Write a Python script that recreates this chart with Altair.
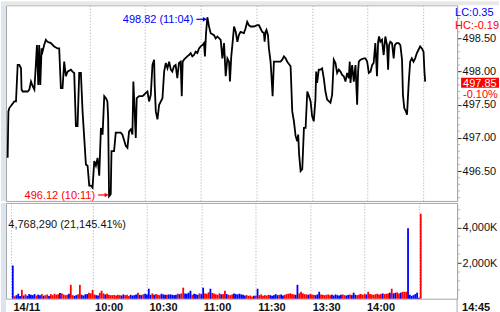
import altair as alt
import pandas as pd

FONT = "Liberation Sans"

# ---- price series: session minutes since 09:15 (lunch 11:30-13:00 collapsed) ----
price_t = [0.9, 1.3, 1.8, 4.5, 5.4, 6.3, 7.2, 8.1, 8.4, 9.0, 11.7, 12.6, 13.5, 14.4, 15.3, 16.2, 16.7, 17.4, 17.9, 18.5,
           19.2, 19.7, 20.6, 21.5, 22.4, 24.2, 26.0, 27.8, 28.7, 29.6, 30.5, 31.4, 32.3, 33.2, 35.0, 35.9, 36.8, 37.7, 38.6, 39.5,
           40.4, 41.3, 42.2, 43.1, 44.0, 44.9, 45.8, 46.7, 47.6, 48.5, 49.4, 50.3, 51.2, 52.1, 53.0, 53.9, 54.7, 55.1, 55.6, 56.5,
           56.9, 58.3, 59.2, 61.9, 62.8, 64.6, 65.5, 66.4, 67.3, 68.2, 68.7, 69.1, 70.0, 70.5, 71.8, 73.6, 74.5, 75.4, 76.3, 77.2,
           78.1, 79.0, 79.9, 80.2, 80.8, 81.7, 82.6, 84.4, 85.3, 86.2, 87.1, 88.0, 88.9, 89.7, 90.6, 91.5, 92.4, 93.3, 94.2, 94.8,
           95.3, 96.0, 97.8, 98.7, 99.6, 100.5, 101.4, 102.3, 103.2, 104.1, 105.0, 105.9, 106.8, 107.3, 107.9, 108.6, 109.5, 110.4,
           112.2, 113.1, 114.0, 115.8, 116.7, 117.6, 118.5, 119.4, 120.3, 120.8, 121.5, 122.1, 123.0, 123.9, 124.8, 125.6, 126.5,
           128.3, 129.2, 130.1, 131.0, 131.9, 133.7, 135.5, 136.4, 137.3, 138.2, 139.1, 139.5, 140.0, 140.5, 141.3, 141.8, 142.7,
           143.2, 143.8, 144.5, 146.3, 148.1, 149.0, 149.9, 150.8, 151.7, 153.5, 154.4, 155.3, 156.2, 157.1, 157.6, 158.1, 158.9,
           159.8, 160.7, 161.6, 162.5, 163.4, 164.3, 165.1, 166.0, 166.9, 167.3, 167.8, 168.7, 169.6, 170.5, 171.4, 172.3, 173.2,
           175.0, 175.9, 176.8, 177.7, 178.6, 179.5, 180.4, 181.3, 182.2, 183.1, 184.0, 184.9, 185.4, 185.8, 186.7, 187.6, 188.5,
           189.4, 189.9, 190.3, 191.2, 193.0, 193.9, 194.8, 195.7, 196.6, 197.5, 198.3, 199.2, 200.1, 200.7, 201.2, 201.9, 202.8,
           203.7, 204.6, 205.5, 206.1, 206.6, 207.3, 208.2, 209.1, 209.7, 210.6, 211.8, 212.7, 213.6, 214.1, 214.8, 215.7, 216.3,
           217.2, 218.0, 218.9, 219.8, 220.7, 221.6, 222.5, 223.4, 224.3, 225.2, 225.7, 226.1]
price_v = [496.70, 497.40, 497.45, 497.55, 497.55, 498.10, 498.10, 498.05, 497.73, 497.70, 497.70, 497.73, 497.85, 497.78,
           497.73, 498.15, 498.40, 497.80, 498.40, 497.80, 498.35, 498.30, 498.40, 498.48, 498.45, 498.43, 498.38, 498.35,
           498.35, 497.75, 497.75, 498.15, 497.93, 498.00, 498.03, 498.00, 497.98, 497.18, 497.18, 497.98, 497.98, 497.40,
           497.00, 496.60, 496.58, 496.28, 496.28, 496.25, 496.65, 496.58, 496.70, 496.43, 497.15, 497.05, 497.63, 497.60,
           497.55, 497.30, 496.12, 496.15, 496.80, 496.80, 497.08, 497.08, 497.05, 496.88, 496.85, 497.10, 497.13, 497.05,
           497.85, 497.60, 497.00, 497.60, 497.63, 497.63, 497.65, 497.68, 497.70, 497.55, 497.65, 498.10, 498.18, 497.80,
           497.40, 497.28, 497.50, 497.60, 498.00, 498.13, 498.05, 498.15, 498.03, 498.00, 498.08, 498.10, 497.90, 498.13,
           498.15, 497.63, 498.15, 498.18, 498.23, 498.25, 498.28, 498.23, 498.25, 498.30, 498.28, 498.35, 498.38, 498.40,
           498.43, 498.23, 498.58, 498.82, 498.68, 498.58, 498.55, 498.50, 498.53, 498.48, 498.20, 498.43, 497.93, 498.20,
           498.15, 497.85, 498.23, 498.40, 498.68, 498.60, 498.45, 498.55, 498.60, 498.58, 498.65, 498.75, 498.70, 498.68,
           498.68, 498.70, 498.70, 498.65, 498.60, 498.58, 498.45, 498.60, 498.63, 498.55, 498.35, 498.15, 497.93, 497.63,
           498.15, 498.15, 498.15, 498.18, 498.23, 498.20, 498.15, 498.08, 497.40, 497.25, 497.03, 496.95, 497.05, 496.75,
           496.50, 496.53, 497.15, 497.15, 497.70, 497.63, 497.55, 497.33, 497.25, 497.58, 498.00, 497.83, 498.03, 498.03,
           498.05, 497.90, 497.70, 497.58, 497.53, 497.65, 498.18, 498.13, 497.98, 498.03, 498.00, 497.95, 497.93, 497.85,
           497.98, 497.90, 498.15, 497.83, 498.10, 497.85, 498.10, 497.50, 498.00, 498.15, 498.18, 498.20, 498.20, 498.15,
           497.98, 498.00, 498.10, 498.13, 498.43, 497.93, 498.45, 498.53, 498.45, 498.48, 498.25, 498.53, 498.40, 498.03,
           498.40, 498.45, 498.43, 498.20, 498.40, 498.43, 498.43, 498.40, 498.18, 497.65, 497.45, 497.40, 497.35, 497.83,
           498.15, 498.20, 498.15, 498.20, 498.28, 498.33, 498.38, 498.35, 498.30, 498.00, 497.85]

# ---- volume per minute (thousands) and colour (b = blue, r = red) ----
vol_t = list(range(1, 227))
vol_k = [1865, 140, 200, 280, 150, 500, 180, 250, 170, 260,
         220, 200, 260, 180, 230, 200, 260, 170, 200, 240,
         150, 260, 200, 280, 230, 250, 320, 300, 240, 200,
         220, 280, 780, 200, 160, 200, 250, 780, 220, 180,
         250, 260, 330, 300, 500, 240, 200, 180, 330, 450,
         300, 240, 280, 220, 200, 200, 210, 180, 220, 200,
         180, 240, 200, 220, 150, 220, 180, 200, 240, 330,
         220, 200, 250, 280, 230, 560, 220, 300, 220, 260,
         220, 200, 280, 240, 220, 220, 240, 240, 220, 200,
         220, 280, 260, 300, 620, 300, 280, 340, 450, 220,
         280, 250, 220, 300, 260, 620, 300, 280, 360, 560,
         320, 300, 250, 220, 300, 250, 260, 450, 260, 220,
         200, 240, 300, 260, 240, 280, 240, 220, 180, 200,
         160, 180, 120, 160, 180, 560, 200, 240, 160, 200,
         180, 220, 200, 160, 200, 260, 200, 220, 240, 180,
         220, 260, 280, 300, 260, 240, 220, 780, 300, 390,
         300, 260, 240, 220, 260, 230, 220, 200, 240, 390,
         240, 220, 200, 220, 240, 200, 230, 180, 240, 200,
         180, 220, 240, 200, 180, 220, 240, 200, 340, 220,
         200, 240, 260, 220, 260, 240, 390, 260, 240, 220,
         250, 280, 240, 260, 300, 260, 280, 300, 330, 560,
         300, 330, 360, 300, 340, 390, 390, 390, 3950, 220,
         160, 200, 260, 340, 60, 4768]
vol_c = list("brbbbrbrbb" "bbbrbbrbrr" "brrrrrbrrr" "rbrrbbrrbb" "bbrrrrbbrr"
             "rbrrrrrrrr" "bbrrrbbbbr" "bbrbbbbrbr" "rrbbbrbbbb" "brbrrbbbbr"
             "bbbrbbrrrb" "rrrrrbrrbr" "rrbbbbbbbr" "rrrbrbrrrr" "rrbbbbbrbb"
             "rrrrrrbbrr" "rrrbrrrbbb" "rrrrrrbbbb" "bbrrbbrbbb" "rrrrrbrrrr"
             "rrrrbrrrbr" "bbrrbrrrbb" "bbbbbr")

# ---- axis ticks / labels ----
x_vals = [0, 45, 75, 105, 135, 165, 195, 225]
x_text = ["14/11", "10:00", "10:30", "11:00", "11:30", "13:30", "14:00", ""]
price_ticks = [496.5, 497.0, 497.5, 498.0, 498.5]
price_minor = [496.1, 496.2, 496.3, 496.4, 496.6, 496.7, 496.8, 496.9, 497.1, 497.2, 497.3, 497.4,
               497.6, 497.7, 497.8, 497.9, 498.1, 498.2, 498.3, 498.4, 498.6, 498.7, 498.8, 498.9]
vol_ticks = [2000, 4000]
vol_minor = [500, 1000, 1500, 2500, 3000, 3500, 4500, 5000]

hi_t, hi_v, hi_lab = 108.6, 498.82, "498.82 (11:04)"
lo_t, lo_v, lo_lab = 55.6, 496.12, "496.12 (10:11)"
close_v, close_lab, pct_lab = 497.85, "497.85", "-0.10%"
lc_lab, hc_lab = "LC:0.35", "HC:-0.19"
vol_lab = "4,768,290 (21,145.41%)"
now_lab = "14:45"

W, H1, H2 = 452, 196, 96
BLUE, RED = "#0000ff", "#ff0000"
GRID = "#a8a8a8"
AXC = "#a8a8a8"

xscale = alt.Scale(domain=[0, 243.3], nice=False, zero=False)
yscale = alt.Scale(domain=[496.05, 499.0], nice=False, zero=False)
vscale = alt.Scale(domain=[0, 5380], nice=False)
lab_expr = "{" + ",".join(f"'{v}':'{t}'" for v, t in zip(x_vals, x_text)) + "}[datum.value + '']"

price_df = pd.DataFrame({"t": price_t, "p": price_v})
vol_df = pd.DataFrame({"t": vol_t, "v": vol_k, "c": vol_c})
one = pd.DataFrame({"d": [0]})

top_x = alt.Axis(values=x_vals, labels=False, ticks=False, domain=False, grid=True,
                 gridDash=[1, 2], gridColor=GRID, title=None)
price_axis = alt.Axis(orient="right", values=price_ticks, format=".2f", tickSize=4, tickColor="#333333",
                      domainColor=AXC, labelFont=FONT, labelFontSize=11, labelColor="#111111",
                      labelPadding=1, grid=False, title=None)

line = alt.Chart(price_df).mark_line(color="black", strokeWidth=1.8).encode(
    x=alt.X("t:Q", scale=xscale, axis=top_x),
    y=alt.Y("p:Q", scale=yscale, axis=price_axis),
)
pminor = alt.Chart(pd.DataFrame({"v": price_minor})).mark_rule(color="#b8b8b8").encode(
    x=alt.value(W + 1), x2=alt.value(W + 3), y=alt.Y("v:Q", scale=yscale))


def annot(t, p, lab, col, dy, ady):
    df = pd.DataFrame({"t": [t], "p": [p], "lab": [lab]})
    enc = dict(x=alt.X("t:Q", scale=xscale), y=alt.Y("p:Q", scale=yscale))
    txt = alt.Chart(df).mark_text(align="right", baseline="alphabetic", dx=-14, dy=dy,
                                  font=FONT, fontSize=11, color=col).encode(text="lab:N", **enc)
    shaft = alt.Chart(df).mark_rule(color=col, strokeWidth=1.2, xOffset=-11, x2Offset=-2,
                                    yOffset=ady, y2Offset=ady).encode(
        x2="t:Q", y2="p:Q", **enc)
    head = alt.Chart(df).mark_point(shape="triangle-right", filled=True, size=22, opacity=1,
                                    color=col, xOffset=-2.5, yOffset=ady).encode(**enc)
    return [txt, shaft, head]


hi_layers = annot(hi_t, hi_v, hi_lab, BLUE, 5.4, 2.1)
lo_layers = annot(lo_t, lo_v, lo_lab, RED, 2.6, -1.3)

close_df = pd.DataFrame({"p": [close_v], "lab": [close_lab], "pct": [pct_lab]})
close_box = alt.Chart(close_df).mark_rect(color=RED, yOffset=-3.7, y2Offset=6.3).encode(
    x=alt.value(456), x2=alt.value(494), y=alt.Y("p:Q", scale=yscale), y2="p:Q")
close_txt = alt.Chart(close_df).mark_text(align="left", baseline="alphabetic", dy=5.3,
                                          font=FONT, fontSize=11, color="white").encode(
    x=alt.value(458), y=alt.Y("p:Q", scale=yscale), text="lab:N")
pct_txt = alt.Chart(close_df).mark_text(align="left", baseline="alphabetic", dy=16.3,
                                        font=FONT, fontSize=11, color=RED).encode(
    x=alt.value(458), y=alt.Y("p:Q", scale=yscale), text="pct:N")

lc_txt = alt.Chart(one).mark_text(align="left", baseline="alphabetic", font=FONT, fontSize=11,
                                  color=BLUE, text=lc_lab).encode(x=alt.value(450), y=alt.value(11))
hc_txt = alt.Chart(one).mark_text(align="left", baseline="alphabetic", font=FONT, fontSize=11,
                                  color=RED, text=hc_lab).encode(x=alt.value(450), y=alt.value(23.3))

strip_top = alt.Chart(one).mark_rect(color="#e8e8e8").encode(
    x=alt.value(-5), x2=alt.value(494), y=alt.value(-4), y2=alt.value(0))
strip_left = alt.Chart(one).mark_rect(color="#dbe4ef").encode(
    x=alt.value(-5), x2=alt.value(0), y=alt.value(0), y2=alt.value(H1))

top = alt.layer(strip_top, strip_left, pminor, line, *hi_layers, *lo_layers, close_box, close_txt,
                pct_txt, lc_txt, hc_txt).properties(width=W, height=H1)

bot_x = alt.Axis(values=x_vals, labelExpr=lab_expr, labelAlign="left", labelBaseline="alphabetic",
                 labelFont=FONT, labelFontSize=11, labelFontWeight="bold", labelColor="#111111",
                 labelPadding=11.5, labelOffset=2, labelFlush=False, labelOverlap=False, labelBound=False,
                 ticks=False, tickSize=0, domain=False, grid=True, gridDash=[1, 2], gridColor=GRID,
                 title=None)
vol_axis = alt.Axis(orient="right", values=vol_ticks, labelExpr="format(datum.value, ',') + 'K'",
                    tickSize=4, tickColor="#333333", domainColor=AXC, labelFont=FONT, labelFontSize=11,
                    labelColor="#111111", labelPadding=1, grid=False, title=None)

bars = alt.Chart(vol_df).mark_bar(size=1.8).encode(
    x=alt.X("t:Q", scale=xscale, axis=bot_x),
    y=alt.Y("v:Q", scale=vscale, axis=vol_axis),
    color=alt.Color("c:N", scale=alt.Scale(domain=["b", "r"], range=[BLUE, RED]), legend=None),
)
vminor = alt.Chart(pd.DataFrame({"v": vol_minor})).mark_rule(color="#b8b8b8").encode(
    x=alt.value(W + 1), x2=alt.value(W + 3), y=alt.Y("v:Q", scale=vscale))
vol_txt = alt.Chart(one).mark_text(align="left", baseline="alphabetic", font=FONT, fontSize=11,
                                   color="#111111", text=vol_lab).encode(x=alt.value(2.3), y=alt.value(25))
now_txt = alt.Chart(one).mark_text(align="left", baseline="alphabetic", font=FONT, fontSize=11,
                                   fontWeight="bold", color="#111111", text=now_lab).encode(
    x=alt.value(457), y=alt.value(108))
sep = alt.Chart(one).mark_rule(color=AXC).encode(x=alt.value(W), y=alt.value(H2), y2=alt.value(H2 + 15))
strip_left2 = alt.Chart(one).mark_rect(color="#dbe4ef").encode(
    x=alt.value(-5), x2=alt.value(0), y=alt.value(0), y2=alt.value(H2 + 15))

bottom = alt.layer(strip_left2, vminor, bars, vol_txt, now_txt, sep).properties(width=W, height=H2)

chart = alt.vconcat(top, bottom, spacing=0).properties(padding=0, background="white").configure_view(
    stroke=AXC, strokeWidth=1)

chart.save("out.html", embed_options={"renderer": "svg", "actions": False})
